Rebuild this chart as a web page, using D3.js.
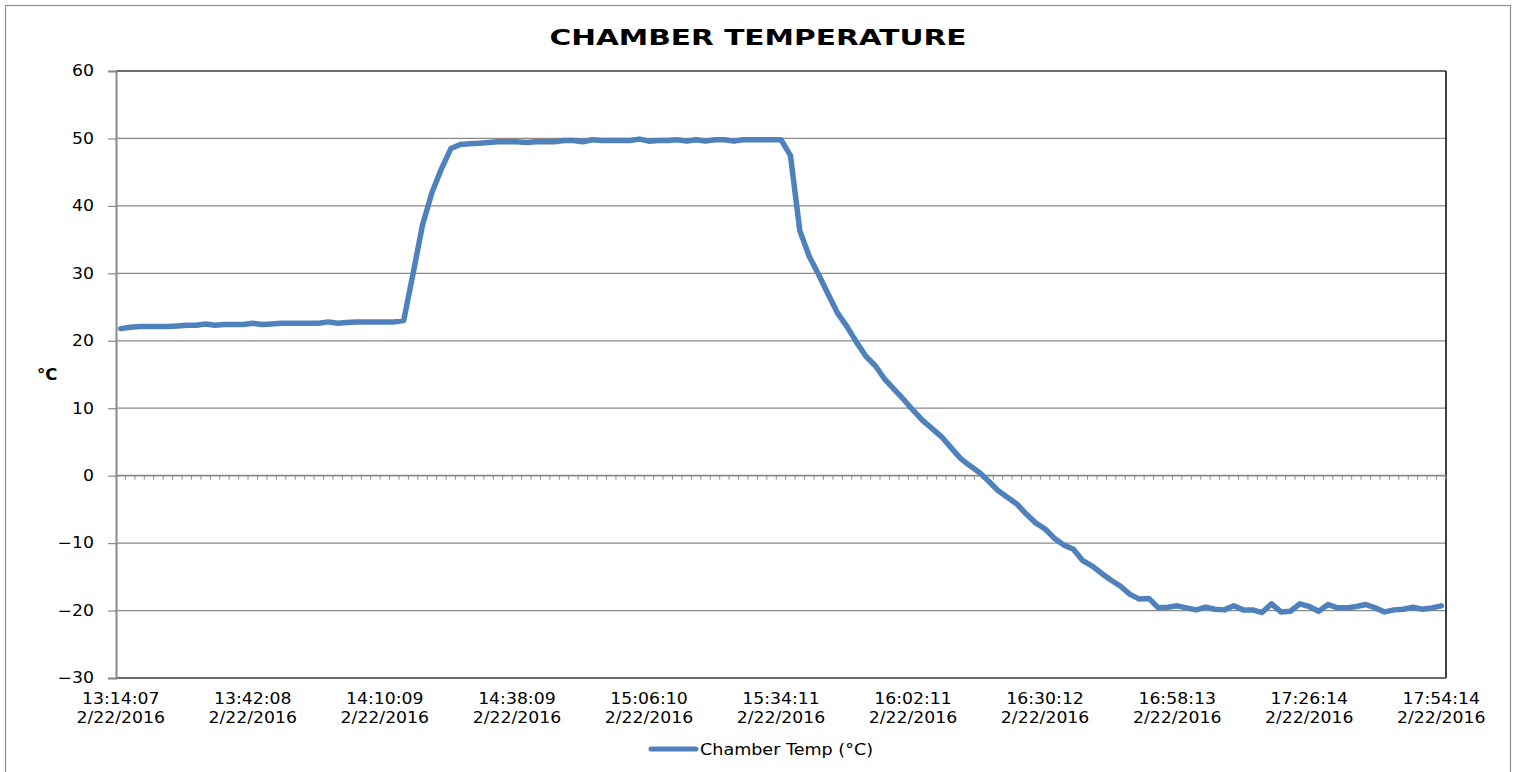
<!DOCTYPE html>
<html>
<head>
<meta charset="utf-8">
<script src="https://cdn.jsdelivr.net/npm/d3@7"></script>
<style>
  html, body { margin: 0; padding: 0; background: #fff; }
  svg { display: block; }
  text { font-family: "DejaVu Sans", Verdana, sans-serif; fill: #000; }
</style>
</head>
<body>
<svg id="chart" width="1517" height="772"></svg>
<script>
// ---- data ----
const title = "CHAMBER TEMPERATURE";
const yLabel = "°C";
const seriesName = "Chamber Temp (°C)";
const yTicks = [-30, -20, -10, 0, 10, 20, 30, 40, 50, 60];
// category labels shown on the axis (every 14th sample, 2-minute sampling)
const tickTimes = ["13:14:07","13:42:08","14:10:09","14:38:09","15:06:10","15:34:11","16:02:11","16:30:12","16:58:13","17:26:14","17:54:14"];
const tickDate = "2/22/2016";
const labelEvery = 14;
const chamberTemp = [
  21.8, 22.0, 22.1, 22.1, 22.1, 22.1, 22.2, 22.3, 22.3, 22.5,
  22.3, 22.4, 22.4, 22.4, 22.6, 22.4, 22.5, 22.6, 22.6, 22.6,
  22.6, 22.6, 22.8, 22.6, 22.7, 22.8, 22.8, 22.8, 22.8, 22.8,
  23.0, 30.0, 37.2, 42.0, 45.5, 48.5, 49.1, 49.2, 49.3, 49.4,
  49.5, 49.5, 49.5, 49.4, 49.5, 49.5, 49.5, 49.7, 49.7, 49.5,
  49.8, 49.7, 49.7, 49.7, 49.7, 49.9, 49.6, 49.7, 49.7, 49.8,
  49.6, 49.8, 49.6, 49.8, 49.8, 49.6, 49.8, 49.8, 49.8, 49.8,
  49.8, 47.5, 36.3, 32.5, 29.8, 26.9, 24.1, 22.1, 19.8, 17.7,
  16.3, 14.3, 12.8, 11.3, 9.7, 8.2, 7.0, 5.8, 4.2, 2.6,
  1.5, 0.5, -0.8, -2.2, -3.2, -4.2, -5.7, -7.0, -7.9, -9.3,
  -10.3, -10.9, -12.6, -13.4, -14.5, -15.5, -16.4, -17.6, -18.3, -18.2,
  -19.6, -19.5, -19.3, -19.6, -19.9, -19.5, -19.8, -19.9, -19.3, -19.9,
  -19.9, -20.3, -19.0, -20.2, -20.1, -19.0, -19.4, -20.1, -19.1, -19.6,
  -19.6, -19.4, -19.1, -19.6, -20.2, -19.9, -19.8, -19.5, -19.8, -19.6,
  -19.3
];

// ---- layout ----
const svg = d3.select("#chart");
const plot = { left: 116, right: 1446, top: 71, bottom: 678 };
const lineColor = "#4f81bd";
const gridColor = "#8a8a8a";
const fontSize = 15;
const stretch = 1.15;

function widen(sel, f) {
  sel.each(function () {
    const w = this.getComputedTextLength();
    d3.select(this).attr("textLength", w * f).attr("lengthAdjust", "spacingAndGlyphs");
  });
}

// outer chart border
svg.append("rect")
  .attr("x", 5.5).attr("y", 5.5).attr("width", 1505).attr("height", 800)
  .attr("fill", "none").attr("stroke", "#8c8c8c").attr("stroke-width", 1.2);

const idx = d3.range(chamberTemp.length);
const x = d3.scalePoint().domain(idx).range([plot.left, plot.right]).padding(0.5);
const y = d3.scaleLinear().domain([-30, 60]).range([plot.bottom, plot.top]);

// gridlines
svg.append("g").selectAll("line").data(yTicks.filter(v => v !== 60 && v !== -30 && v !== 0))
  .join("line")
  .attr("x1", plot.left).attr("x2", plot.right)
  .attr("y1", d => y(d)).attr("y2", d => y(d))
  .attr("stroke", gridColor).attr("stroke-width", 1.2);

// plot area border (top, right, bottom)
const border = svg.append("g").attr("stroke", "#3a3a3a").attr("stroke-width", 1.6);
border.append("line").attr("x1", plot.left).attr("x2", plot.right).attr("y1", y(60)).attr("y2", y(60));
border.append("line").attr("x1", plot.right).attr("x2", plot.right).attr("y1", y(60)).attr("y2", y(-30)).attr("stroke", "#111");
border.append("line").attr("x1", plot.left).attr("x2", plot.right).attr("y1", y(-30)).attr("y2", y(-30));

// y axis
const yAxis = svg.append("g").attr("transform", `translate(${plot.left},0)`)
  .call(d3.axisLeft(y).tickValues(yTicks).tickSize(8).tickPadding(14).tickFormat(d3.format("d")));
yAxis.select(".domain").attr("stroke", gridColor).attr("stroke-width", 2);
yAxis.selectAll(".tick line").attr("stroke", gridColor).attr("stroke-width", 1.2);
yAxis.selectAll(".tick text").attr("font-size", fontSize).attr("fill", "#111")
  .attr("font-family", "DejaVu Sans").call(widen, stretch);

// category axis at zero with minor ticks
const xAxisZero = svg.append("g").attr("transform", `translate(0,${y(0)})`);
xAxisZero.append("line").attr("x1", plot.left).attr("x2", plot.right)
  .attr("stroke", gridColor).attr("stroke-width", 1.6);
const step = x.step();
xAxisZero.selectAll("line.cat").data(d3.range(1, chamberTemp.length + 1))
  .join("line").attr("class", "cat")
  .attr("x1", d => plot.left + d * step).attr("x2", d => plot.left + d * step)
  .attr("y1", 0).attr("y2", 4)
  .attr("stroke", gridColor).attr("stroke-width", 1);

// category labels below plot
const labelIdx = tickTimes.map((t, i) => i * labelEvery);
const labs = svg.append("g").selectAll("text").data(labelIdx).join("text")
  .attr("x", d => x(d)).attr("text-anchor", "middle")
  .attr("font-size", fontSize).attr("fill", "#111");
labs.append("tspan").attr("x", d => x(d)).attr("y", 704).text((d, i) => tickTimes[i]);
labs.append("tspan").attr("x", d => x(d)).attr("y", 723).text(tickDate);
labs.selectAll("tspan").call(widen, stretch);

// series line
svg.append("path").datum(chamberTemp)
  .attr("fill", "none").attr("stroke", lineColor).attr("stroke-width", 5.5)
  .attr("stroke-linejoin", "round").attr("stroke-linecap", "round")
  .attr("d", d3.line().x((d, i) => x(i)).y(d => y(d)));

// title
svg.append("text").attr("x", 758).attr("y", 45).attr("text-anchor", "middle")
  .attr("font-size", 21).attr("font-weight", "bold")
  .attr("textLength", 417).attr("lengthAdjust", "spacingAndGlyphs")
  .text(title);

// y label
svg.append("text").attr("x", 37).attr("y", 380).attr("font-size", fontSize).attr("font-weight", "bold")
  .text(yLabel).call(widen, 1.1);

// legend
svg.append("line").attr("x1", 651).attr("x2", 696).attr("y1", 749).attr("y2", 749)
  .attr("stroke", lineColor).attr("stroke-width", 5).attr("stroke-linecap", "round");
svg.append("text").attr("x", 700).attr("y", 755).attr("font-size", fontSize).attr("fill", "#111")
  .text(seriesName).call(widen, 1.17);
</script>
</body>
</html>
